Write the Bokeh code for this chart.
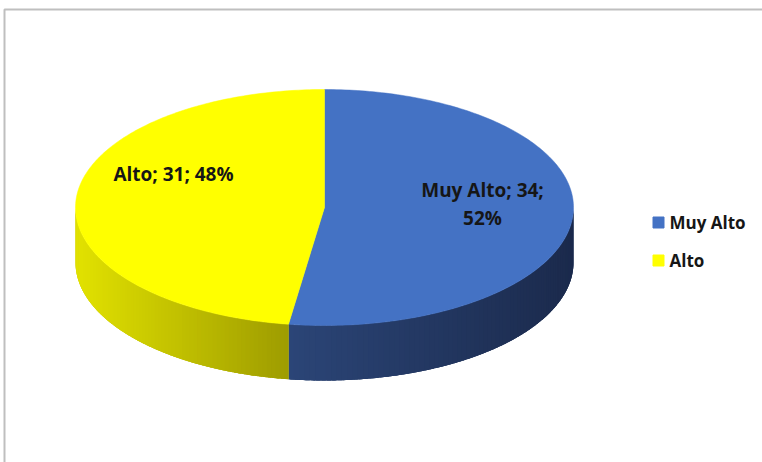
import numpy as np
from bokeh.plotting import figure
from bokeh.models import Range1d
from bokeh.core.properties import value
from bokeh.embed import file_html
from bokeh.resources import INLINE

# ---- data ----
categories = ["Muy Alto", "Alto"]
values = [34, 31]
top_colors = ["#4472C4", "#FFFF00"]
side_left_colors = ["#2B4577", "#E2E200"]
side_right_colors = ["#1B2A4C", "#9E9C00"]

# ---- layout ----
W, H = 762, 462
CX, CY = 324, 207          # ellipse centre (px)
RX, RY = 249, 118          # ellipse radii (px)
DEPTH = 55                 # thickness of the disc (px)
label_pos = {"Muy Alto": [(482, 189), (482, 217)], "Alto": [(173, 173)]}
legend_x, legend_y0, legend_dy = 658, 222, 38

p = figure(width=W, height=H, x_range=Range1d(0, W), y_range=Range1d(H, 0),
           output_backend="svg", toolbar_location=None, min_border=0)
p.axis.visible = False
p.grid.visible = False
p.outline_line_color = None
p.background_fill_color = "white"
p.border_fill_color = "white"

# frame
p.quad(left=[4], right=[W + 10], top=[9], bottom=[H + 10], fill_color=None,
       line_color="#BFBFBF", line_width=2)

vals = np.array(values, dtype=float)
frac = vals / vals.sum()
bounds = np.concatenate([[0.0], np.cumsum(frac)]) * 2 * np.pi  # clockwise from top


def ell(t, dy=0.0):
    return CX + RX * np.sin(t), CY - RY * np.cos(t) + dy


def hexmix(c1, c2, f):
    a = np.array([int(c1[i:i + 2], 16) for i in (1, 3, 5)], dtype=float)
    b = np.array([int(c2[i:i + 2], 16) for i in (1, 3, 5)], dtype=float)
    c = a + (b - a) * f
    return "#%02x%02x%02x" % tuple(int(round(v)) for v in c)


# sides (front half only: angles pi/2 .. 3pi/2)
for i in range(len(values)):
    a0 = max(bounds[i], np.pi / 2)
    a1 = min(bounds[i + 1], 3 * np.pi / 2)
    if a1 <= a0:
        continue
    # base fill of the whole side
    t = np.linspace(a0, a1, 200)
    x1, y1 = ell(t)
    x2, y2 = ell(t[::-1], DEPTH)
    mid = hexmix(side_left_colors[i], side_right_colors[i], 0.5)
    p.patch(np.concatenate([x1, x2]), np.concatenate([y1, y2]),
            fill_color=mid, line_color=None)
    n = 80
    ts = np.linspace(a0, a1, n + 1)
    xs_all, _ = ell(ts)
    xmin, xmax = xs_all.min(), xs_all.max()
    step = ts[1] - ts[0]
    xs_list, ys_list, cols = [], [], []
    for k in range(n):
        tt = np.linspace(ts[k], min(ts[k + 1] + 0.8 * step, a1), 5)
        x1, y1 = ell(tt)
        x2, y2 = ell(tt[::-1], DEPTH)
        xs_list.append(list(x1) + list(x2))
        ys_list.append(list(y1) + list(y2))
        xm = 0.5 * (ell(ts[k])[0] + ell(ts[k + 1])[0])
        f = (xm - xmin) / (xmax - xmin) if xmax > xmin else 0
        cols.append(hexmix(side_left_colors[i], side_right_colors[i], f))
    p.patches(xs_list, ys_list, fill_color=cols, line_color=None)

# tops
for i in range(len(values)):
    t = np.linspace(bounds[i], bounds[i + 1], 200)
    x, y = ell(t)
    p.patch(np.concatenate([[CX], x]), np.concatenate([[CY], y]),
            fill_color=top_colors[i], line_color=top_colors[i], line_width=0.5)

# data labels
total = vals.sum()
for cat, v in zip(categories, values):
    pct = int(round(100 * v / total))
    full = f"{cat}; {v}; {pct}%"
    pos = label_pos[cat]
    if len(pos) == 2:
        lines = [f"{cat}; {v};", f"{pct}%"]
    else:
        lines = [full]
    for (lx, ly), txt in zip(pos, lines):
        p.text(x=[lx], y=[ly], text=[txt], text_font=value("Open Sans"),
               text_font_style="bold", text_font_size="19px", text_color="#161616",
               text_align="center", text_baseline="middle")

# legend
for j, cat in enumerate(categories):
    yy = legend_y0 + j * legend_dy
    p.scatter(x=[legend_x], y=[yy], marker="square", size=11,
              fill_color=top_colors[j], line_color=top_colors[j])
    p.text(x=[legend_x + 11], y=[yy], text=[cat], text_font=value("Open Sans"),
           text_font_style="bold", text_font_size="17px", text_color="#161616",
           text_align="left", text_baseline="middle")

open("out.html", "w").write(file_html(p, INLINE))
